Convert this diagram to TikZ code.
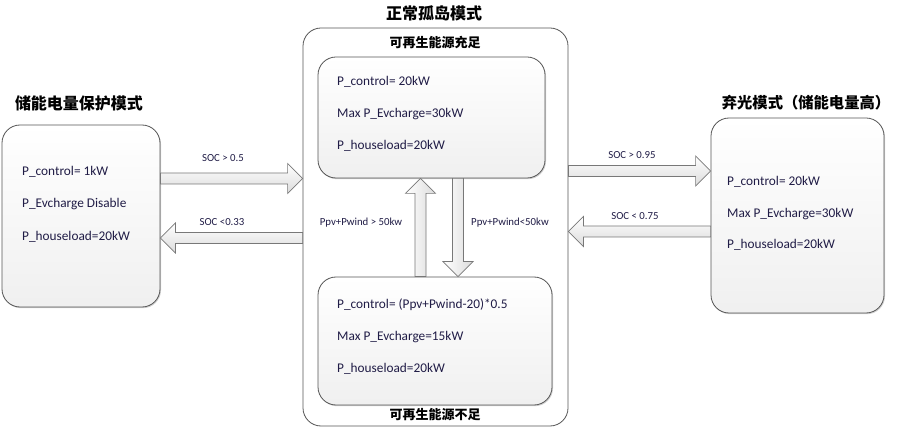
\documentclass[tikz,border=0pt]{standalone}
\usepackage{fontspec}
\setmainfont{Carlito}
\newfontfamily\cjk{Noto Sans CJK SC}
\usetikzlibrary{calc,shadows}
\definecolor{txt}{RGB}{32,28,70}
\definecolor{edge}{RGB}{85,85,85}
\definecolor{aedge}{RGB}{120,120,120}
\newcommand\harr[3]{% tail, tip, direction (1 right, -1 left)
  \draw[barrow, top color=white, bottom color=gray!28]
    ($(#1)+(0,-5.5)$) -- ($(#2)+({-15*(#3)},-5.5)$) -- ($(#2)+({-15*(#3)},-15)$) -- (#2)
    -- ($(#2)+({-15*(#3)},15)$) -- ($(#2)+({-15*(#3)},5.5)$) -- ($(#1)+(0,5.5)$) -- cycle;}
\newcommand\varr[3]{% tail, tip, direction (1 down, -1 up)
  \draw[barrow, left color=white, right color=gray!28]
    ($(#1)+(-5.5,0)$) -- ($(#2)+(-5.5,{-15*(#3)})$) -- ($(#2)+(-15,{-15*(#3)})$) -- (#2)
    -- ($(#2)+(15,{-15*(#3)})$) -- ($(#2)+(5.5,{-15*(#3)})$) -- ($(#1)+(5.5,0)$) -- cycle;}
\tikzset{
  box/.style={draw=edge, line width=0.8pt, rounded corners=18pt, top color=white, bottom color=gray!12,
    minimum width=#1, inner sep=0pt, drop shadow={shadow xshift=1pt, shadow yshift=-1.2pt, opacity=0.35}},
  bigbox/.style={draw=edge, line width=0.8pt, rounded corners=18pt, fill=white, inner sep=0pt},
  barrow/.style={draw=aedge, line width=0.7pt, line join=miter},
  body/.style={anchor=west, text=txt, font=\fontsize{13.3}{15}\selectfont, inner sep=0pt},
  small/.style={text=txt, font=\fontsize{10.8}{12}\selectfont, inner sep=0pt},
  mid/.style={text=txt, font=\fontsize{10.8}{13}\selectfont, inner sep=0pt},
  title/.style={font=\cjk\bfseries\fontsize{16}{18}\selectfont, inner sep=0pt},
  sub/.style={font=\cjk\bfseries\fontsize{13}{15}\selectfont, inner sep=0pt},
}
\begin{document}
\begin{tikzpicture}[x=1pt,y=-1pt]
\useasboundingbox (0,0) rectangle (905,430);
% boxes
\node[bigbox, minimum width=265pt, minimum height=398pt] (C) at (435.5,227) {};
\node[box=158pt, minimum height=182pt] (L) at (81,216) {};
\node[box=227pt, minimum height=121pt] (I1) at (431.5,117.5) {};
\node[box=234pt, minimum height=128pt] (I2) at (435,341) {};
\node[box=173pt, minimum height=195pt] (R) at (797.5,215.5) {};
% titles
\node[title] (tL) at (79,103) {储能电量保护模式};
\node[title] (tC) at (434,13) {正常孤岛模式};
\node[title, font=\cjk\bfseries\fontsize{15.3}{17}\selectfont] (tR) at (806,103) {弃光模式（储能电量高）};
\node[sub] (s1) at (435,43) {可再生能源充足};
\node[sub] (s2) at (435,415) {可再生能源不足};
% texts
\node[body] (l1) at (22,172) {P\_control= 1kW};
\node[body] (l2) at (22,204) {P\_Evcharge Disable};
\node[body] (l3) at (22,237) {P\_houseload=20kW};
\node[body] (a1) at (337,82) {P\_control= 20kW};
\node[body] (a2) at (337,114) {Max P\_Evcharge=30kW};
\node[body] (a3) at (337,146) {P\_houseload=20kW};
\node[body] (b1) at (337,305) {P\_control= (Ppv+Pwind-20)*0.5};
\node[body] (b2) at (337,337) {Max P\_Evcharge=15kW};
\node[body] (b3) at (337,369) {P\_houseload=20kW};
\node[body] (r1) at (727,182) {P\_control= 20kW};
\node[body] (r2) at (727,214) {Max P\_Evcharge=30kW};
\node[body] (r3) at (727,245) {P\_houseload=20kW};
% arrow end points
\coordinate (e1s) at (L.east |- 0,178.5);
\coordinate (e1t) at (C.west |- 0,178.5);
\coordinate (e2s) at (C.west |- 0,238);
\coordinate (e2t) at (L.east |- 0,238);
\coordinate (e3s) at (C.east |- 0,171);
\coordinate (e3t) at (R.west |- 0,171);
\coordinate (e4s) at (R.west |- 0,231.5);
\coordinate (e4t) at (C.east |- 0,231.5);
\coordinate (v1s) at (I2.north -| 420.5,0);
\coordinate (v1t) at (I1.south -| 420.5,0);
\coordinate (v2s) at (I1.south -| 458,0);
\coordinate (v2t) at (I2.north -| 458,0);
\harr{e1s}{e1t}{1}
\harr{e2s}{e2t}{-1}
\harr{e3s}{e3t}{1}
\harr{e4s}{e4t}{-1}
\varr{v1s}{v1t}{-1}
\varr{v2s}{v2t}{1}
% labels
\node[small] (k1) at (223,158) {SOC > 0.5};
\node[small] (k2) at (222,222) {SOC <0.33};
\node[small] (k3) at (632,155) {SOC > 0.95};
\node[small] (k4) at (635,216) {SOC < 0.75};
\node[mid] (m1) at (361,223) {Ppv+Pwind > 50kw};
\node[mid] (m2) at (510,223) {Ppv+Pwind<50kw};
\end{tikzpicture}
\end{document}
